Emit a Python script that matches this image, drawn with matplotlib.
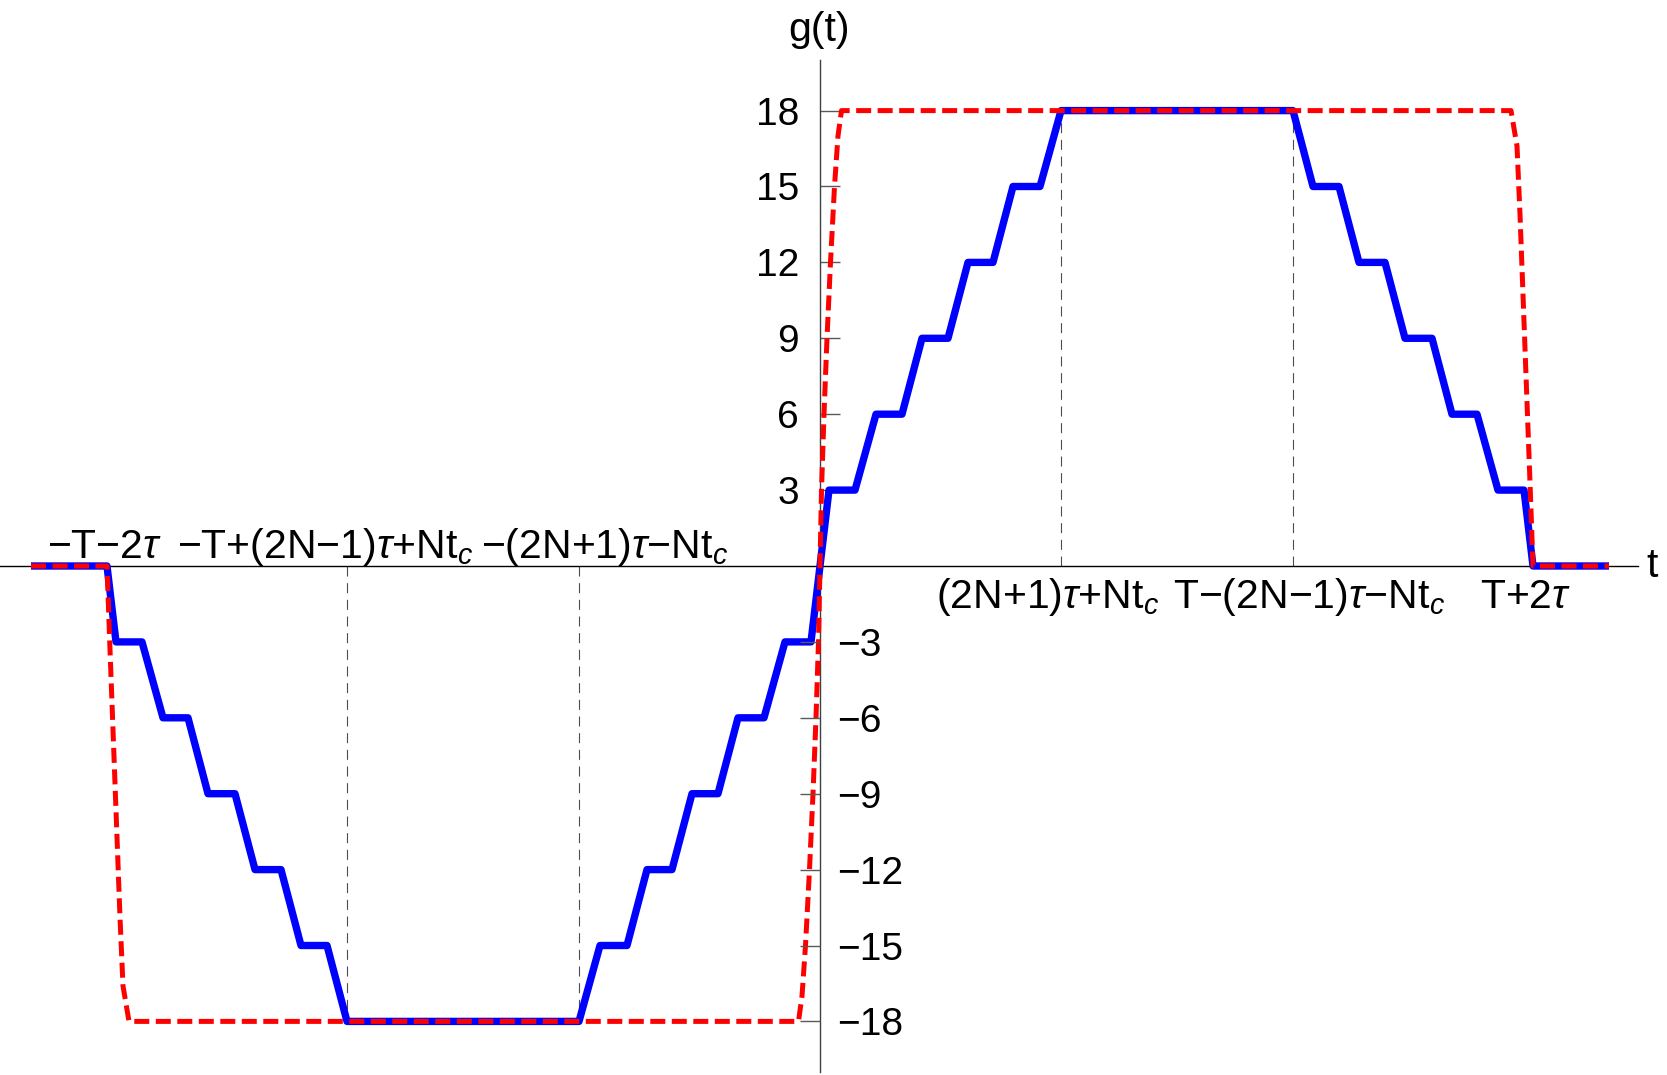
import numpy as np
import matplotlib.pyplot as plt

plt.rcParams['font.family'] = ['Liberation Sans', 'DejaVu Sans']
plt.rcParams['mathtext.fontset'] = 'custom'
plt.rcParams['mathtext.rm'] = 'Liberation Sans'
plt.rcParams['mathtext.it'] = 'Liberation Sans:italic'

# blue staircase g(t): corner points (t in arbitrary units)
stair_t = [-78.9, -71.3, -70.4, -67.8, -65.7, -63.2, -61.2, -58.5, -56.5, -53.9,
           -51.9, -49.3, -47.3, -24.1, -22.0, -19.3, -17.3, -14.8, -12.8, -10.2,
           -8.2, -5.6, -3.5, -0.9,
           0.9, 3.5, 5.6, 8.2, 10.2, 12.8, 14.8, 17.3, 19.3, 22.0,
           24.1, 47.3, 49.3, 51.9, 53.9, 56.5, 58.5, 61.2, 63.2, 65.7,
           67.8, 70.4, 71.3, 78.9]
stair_g = [0, 0, -3, -3, -6, -6, -9, -9, -12, -12,
           -15, -15, -18, -18, -15, -15, -12, -12, -9, -9,
           -6, -6, -3, -3,
           3, 3, 6, 6, 9, 9, 12, 12, 15, 15,
           18, 18, 15, 15, 12, 12, 9, 9, 6, 6,
           3, 3, 0, 0]

# red dashed pulse
pulse_t = [-78.9, -71.3, -71.0, -70.5, -70.0, -69.7, -69.1,
           -2.15, -1.8, -1.45, -1.05, -0.7, -0.4, -0.15, 0.0,
           0.15, 0.4, 0.7, 1.05, 1.45, 1.8, 2.15,
           69.1, 69.7, 70.0, 70.5, 71.0, 71.3, 78.9]
pulse_g = [0, 0, -3.3, -8.6, -13.9, -16.6, -18,
           -18, -17, -15, -12, -9, -6, -3, 0,
           3, 6, 9, 12, 15, 17, 18,
           18, 16.6, 13.9, 8.6, 3.3, 0, 0]

# thin dashed guides
mark_t = [-47.3, -24.1, 24.1, 47.3]
mark_g = [-18, -18, 18, 18]

# x labels
xlab_t = [-71.3, -47.3, -24.1, 24.1, 47.3, 71.3]
xlab_txt = [r'−T−2$\tau$',
            r'−T+(2N−1)$\tau$+Nt$_c$',
            r'−(2N+1)$\tau$−Nt$_c$',
            r'(2N+1)$\tau$+Nt$_c$',
            r'T−(2N−1)$\tau$−Nt$_c$',
            r'T+2$\tau$']
xlab_dx = [-1.5, -15.5, 18.3, -9.4, 11.5, -5]   # points
xlab_dy = [5.5, 5.5, 5.5, -30.5, -30.5, -30.5]  # points

yticks_up = [3, 6, 9, 12, 15, 18]
yticks_dn = [-18, -15, -12, -9, -6, -3]

fs = 29.5
fs_tick = 28

fig = plt.figure(figsize=(16.67, 10.75), dpi=100)
ax = fig.add_axes([0.0, 3 / 1075, 1638 / 1667, 1012 / 1075])
ax.set_xlim(-82.0, 81.8)
ax.set_ylim(-20, 20)

for t, g in zip(mark_t, mark_g):
    ax.plot([t, t], [0, g], color='0.3', lw=0.8, dashes=(9, 6), zorder=1)

ax.plot(stair_t, stair_g, color='#0000ff', lw=5.3, solid_joinstyle='round',
        solid_capstyle='butt', zorder=3)
ax.plot(pulse_t, pulse_g, color='#ff0000', lw=3.6, dashes=(3, 1.3),
        dash_capstyle='butt', zorder=4)

ax.spines['top'].set_visible(False)
ax.spines['right'].set_visible(False)
ax.spines['left'].set_position(('data', 0))
ax.spines['bottom'].set_position(('data', 0))
ax.spines['left'].set_color('0.25')
ax.spines['left'].set_linewidth(1.0)
ax.spines['bottom'].set_linewidth(1.0)
ax.spines['left'].set_zorder(2)
ax.spines['bottom'].set_zorder(2)
ax.set_xticks([])
ax.set_yticks(yticks_up)
ax.tick_params(axis='y', direction='in', length=14.4, width=1.0, color='0.35',
               pad=15, labelsize=fs_tick)

tw = ax.twinx()
tw.set_ylim(-20, 20)
for s in ['top', 'left', 'bottom', 'right']:
    tw.spines[s].set_visible(False)
tw.spines['right'].set_position(('data', 0))
tw.set_yticks(yticks_dn)
tw.tick_params(axis='y', direction='in', length=14.4, width=1.0, color='0.35',
               pad=12, labelsize=fs_tick)

for t, txt, dx, dy in zip(xlab_t, xlab_txt, xlab_dx, xlab_dy):
    ax.annotate(txt, xy=(t, 0), xytext=(dx, dy), textcoords='offset points',
                ha='center', va='baseline', fontsize=fs)

ax.annotate('g(t)', xy=(0, 1), xycoords=('data', 'axes fraction'), xytext=(-1, 14),
            textcoords='offset points', ha='center', va='baseline', fontsize=fs)
ax.annotate('t', xy=(1, 0), xycoords=('axes fraction', 'data'), xytext=(6, 0),
            textcoords='offset points', ha='left', va='center', fontsize=fs)

fig.savefig('out.png', dpi=100)
